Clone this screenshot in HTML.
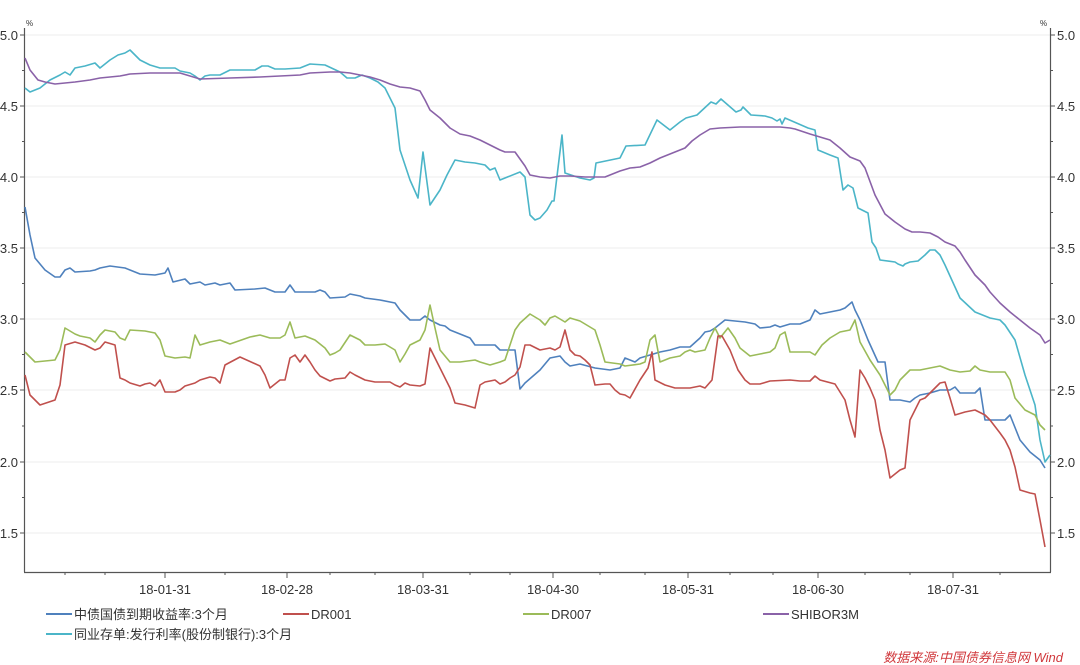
<!DOCTYPE html>
<html><head><meta charset="utf-8"><style>
html,body{margin:0;padding:0;background:#fff;}
svg{display:block;font-family:"Liberation Sans","Noto Sans CJK SC",sans-serif;}
</style></head><body>
<svg width="1080" height="665" viewBox="0 0 1080 665" xmlns="http://www.w3.org/2000/svg">
<g stroke="#eeeeee" stroke-width="1">
<line x1="25" y1="35" x2="1050" y2="35"/><line x1="25" y1="106" x2="1050" y2="106"/><line x1="25" y1="177" x2="1050" y2="177"/><line x1="25" y1="248" x2="1050" y2="248"/><line x1="25" y1="319" x2="1050" y2="319"/><line x1="25" y1="390" x2="1050" y2="390"/><line x1="25" y1="462" x2="1050" y2="462"/><line x1="25" y1="533" x2="1050" y2="533"/>
</g>
<g stroke="#555" stroke-width="1.2" fill="none">
<line x1="24.5" y1="28" x2="24.5" y2="572"/><line x1="1050.5" y1="28" x2="1050.5" y2="572"/><line x1="24" y1="572.5" x2="1051" y2="572.5"/>
</g>
<g stroke="#555" stroke-width="1">
<path d="M20 35H25M20 106H25M20 177H25M20 248H25M20 319H25M20 390H25M20 462H25M20 533H25M22 70.5H25M22 141.5H25M22 212.5H25M22 283.5H25M22 354.5H25M22 426H25M22 497.5H25"/>
<path d="M1050 35H1055M1050 106H1055M1050 177H1055M1050 248H1055M1050 319H1055M1050 390H1055M1050 462H1055M1050 533H1055M1050 70.5H1053M1050 141.5H1053M1050 212.5H1053M1050 283.5H1053M1050 354.5H1053M1050 426H1053M1050 497.5H1053"/>
<path d="M165 572V578M287 572V578M423 572V578M553 572V578M688 572V578M818 572V578M953 572V578M65 572V575M105 572V575M225 572V575M330 572V575M375 572V575M470 572V575M510 572V575M600 572V575M645 572V575M730 572V575M773 572V575M865 572V575M910 572V575M1000 572V575"/>
</g>
<g font-size="13" fill="#333">
<text x="18" y="40" text-anchor="end">5.0</text><text x="18" y="111" text-anchor="end">4.5</text><text x="18" y="182" text-anchor="end">4.0</text><text x="18" y="253" text-anchor="end">3.5</text><text x="18" y="324" text-anchor="end">3.0</text><text x="18" y="395" text-anchor="end">2.5</text><text x="18" y="467" text-anchor="end">2.0</text><text x="18" y="538" text-anchor="end">1.5</text>
<text x="1057" y="40">5.0</text><text x="1057" y="111">4.5</text><text x="1057" y="182">4.0</text><text x="1057" y="253">3.5</text><text x="1057" y="324">3.0</text><text x="1057" y="395">2.5</text><text x="1057" y="467">2.0</text><text x="1057" y="538">1.5</text>
<text x="165" y="594" text-anchor="middle">18-01-31</text><text x="287" y="594" text-anchor="middle">18-02-28</text><text x="423" y="594" text-anchor="middle">18-03-31</text><text x="553" y="594" text-anchor="middle">18-04-30</text><text x="688" y="594" text-anchor="middle">18-05-31</text><text x="818" y="594" text-anchor="middle">18-06-30</text><text x="953" y="594" text-anchor="middle">18-07-31</text>
</g>
<text x="26" y="26" font-size="8" fill="#333">%</text><text x="1040" y="26" font-size="8" fill="#333">%</text>
<g fill="none" stroke-width="1.6" stroke-linejoin="round">
<polyline stroke="#4bb5c8" points="25,88 30,92 40,88 50,80 60,75 65,72 70,75 75,68 85,66 95,63 100,68 110,60 118,55 125,53 130,50 135,55 140,60 150,65 160,68 175,68 180,71 190,73 195,76 200,80 205,76 210,75 220,75 230,70 255,70 262,66 268,66 275,69 285,69 300,68 310,64 325,65 340,72 347,78 355,78 362,75 370,78 378,82 385,88 390,98 395,108 400,150 410,180 418,198 423,152 430,205 440,190 447,175 455,160 465,162 475,163 485,165 490,170 495,168 500,180 505,178 520,172 525,177 530,215 535,220 540,218 547,210 552,201 554,201 562,135 565,173 580,178 590,180 594,178 596,163 620,158 626,146 645,145 657,120 670,130 680,122 686,118 697,115 711,102 716,104 721,99 736,112 741,110 743,107 751,115 765,116 772,118 777,121 780,119 782,124 785,118 808,128 815,130 818,150 830,155 838,158 843,190 848,185 853,188 858,208 862,210 868,213 872,242 876,248 880,260 895,262 898,264 903,266 905,264 910,262 918,261 925,255 930,250 935,250 940,255 945,265 960,298 975,312 990,318 1000,320 1005,325 1015,340 1025,375 1035,405 1040,440 1045,462 1050,455"/>
<polyline stroke="#8a62a8" points="25,58 30,70 38,80 45,82 55,84 65,83 75,82 90,80 100,78 120,76 130,74 150,73 180,73 190,76 200,79 230,78 260,77 300,75 310,73 330,72 340,72 350,73 370,77 380,80 390,84 400,87 410,88 420,91 425,100 430,110 440,118 450,128 460,134 470,136 480,140 490,145 500,150 505,152 515,152 525,166 530,175 540,177 550,178 560,176 570,176 585,177 605,177 620,171 630,168 640,167 650,163 660,158 675,152 685,148 692,141 700,135 710,129 720,128 740,127 760,127 780,127 790,128 795,129 810,134 830,140 840,148 850,157 860,161 865,168 875,195 885,214 895,222 905,229 912,232 920,232 930,233 938,237 945,242 955,246 960,252 965,260 975,275 985,285 990,292 1000,303 1010,312 1020,320 1030,328 1040,335 1045,343 1050,340"/>
<polyline stroke="#4f81bd" points="25,207 30,235 35,258 45,270 55,277 60,277 65,270 70,268 75,272 90,271 95,270 100,268 110,266 125,268 130,270 140,274 155,275 165,273 168,268 173,282 185,279 190,284 200,282 205,285 215,283 220,285 230,283 235,290 255,289 265,288 275,292 285,292 290,285 295,292 315,292 320,290 325,292 330,298 345,297 350,294 360,296 365,298 380,300 395,303 400,310 410,320 420,320 425,316 430,320 440,325 445,326 450,330 470,338 475,345 495,345 500,350 515,350 520,389 525,383 540,370 550,358 560,356 565,362 570,366 580,364 595,368 610,370 620,368 625,358 635,362 640,358 650,355 660,352 670,350 680,347 690,347 700,338 705,332 710,331 715,328 725,320 735,321 745,322 755,324 760,328 770,327 775,325 780,327 790,324 800,324 810,320 815,310 820,314 830,312 840,310 845,308 852,302 855,310 860,320 868,340 878,362 885,362 890,400 900,400 910,402 915,398 920,395 930,393 940,390 950,390 955,387 960,393 975,393 980,388 985,420 1005,420 1010,415 1020,440 1030,452 1040,460 1045,468"/>
<polyline stroke="#9bbb59" points="25,352 35,362 55,360 60,350 65,328 75,334 80,336 90,338 95,342 100,335 105,330 115,332 120,338 125,340 130,330 145,331 155,333 160,340 165,356 175,358 185,357 190,358 195,335 200,345 210,342 220,340 225,342 230,344 250,337 260,335 270,338 280,338 285,335 290,322 295,338 305,336 315,340 325,348 330,355 335,353 340,350 350,335 360,340 365,345 375,345 385,344 395,350 400,362 405,354 410,345 420,340 425,330 430,305 435,328 440,350 450,362 460,362 475,360 480,362 490,365 500,362 505,360 510,345 515,330 520,323 530,314 540,320 545,325 550,318 555,316 565,322 570,318 580,321 595,330 600,345 605,362 620,364 625,366 640,364 645,362 650,340 655,335 660,362 670,358 680,356 685,352 690,350 695,352 705,350 710,338 715,328 720,338 728,328 735,338 740,348 750,356 760,354 770,352 775,348 780,335 785,332 790,352 810,352 815,355 822,345 830,338 840,332 850,330 855,320 860,342 870,360 880,375 885,385 890,395 895,390 900,380 905,375 910,370 920,370 930,368 940,366 945,368 950,370 960,372 970,371 975,366 980,370 990,372 1005,372 1010,380 1015,398 1025,410 1035,415 1040,425 1045,430"/>
<polyline stroke="#c0504d" points="25,375 30,395 40,405 55,400 60,385 65,345 75,342 85,345 95,350 100,348 105,342 115,345 120,378 125,380 130,383 140,386 145,384 150,383 155,386 160,380 165,392 175,392 180,390 185,386 195,383 200,380 210,377 215,378 220,383 225,365 240,357 260,366 265,375 270,388 280,380 285,380 290,358 295,355 300,362 305,355 310,362 315,370 320,376 330,381 335,379 345,378 350,372 355,375 365,380 375,382 390,382 395,385 400,387 405,383 410,385 420,386 425,384 430,348 440,368 450,388 455,403 465,405 475,408 480,385 485,382 495,380 500,384 505,382 510,378 515,375 520,367 525,345 530,345 540,350 550,348 555,350 560,347 565,330 570,350 575,355 580,356 585,360 590,365 595,385 605,384 610,384 615,390 620,394 625,395 630,398 640,380 648,368 652,352 655,380 665,385 675,388 690,388 700,386 705,388 712,380 718,336 722,336 730,350 738,370 745,380 750,384 760,384 770,381 790,380 800,381 810,381 815,376 820,380 835,384 845,400 850,420 855,437 860,370 865,378 870,388 875,400 880,430 885,450 890,478 900,470 905,468 910,420 920,400 925,398 935,388 940,383 945,382 950,398 955,415 965,412 975,410 985,415 990,420 1000,433 1005,440 1010,450 1015,467 1020,490 1030,493 1035,494 1040,520 1045,547"/>
</g>
<g stroke-width="2">
<line x1="46" y1="614" x2="72" y2="614" stroke="#4f81bd"/>
<line x1="283" y1="614" x2="309" y2="614" stroke="#c0504d"/>
<line x1="523" y1="614" x2="549" y2="614" stroke="#9bbb59"/>
<line x1="763" y1="614" x2="789" y2="614" stroke="#8a62a8"/>
<line x1="46" y1="634" x2="72" y2="634" stroke="#4bb5c8"/>
</g>
<g font-size="13" fill="#333">
<text x="74" y="619">中债国债到期收益率:3个月</text>
<text x="311" y="619">DR001</text>
<text x="551" y="619">DR007</text>
<text x="791" y="619">SHIBOR3M</text>
<text x="74" y="639">同业存单:发行利率(股份制银行):3个月</text>
</g>
<text x="1063" y="662" font-size="13" fill="#d0373b" font-style="italic" text-anchor="end">数据来源:中国债券信息网 Wind</text>
</svg>
</body></html>
